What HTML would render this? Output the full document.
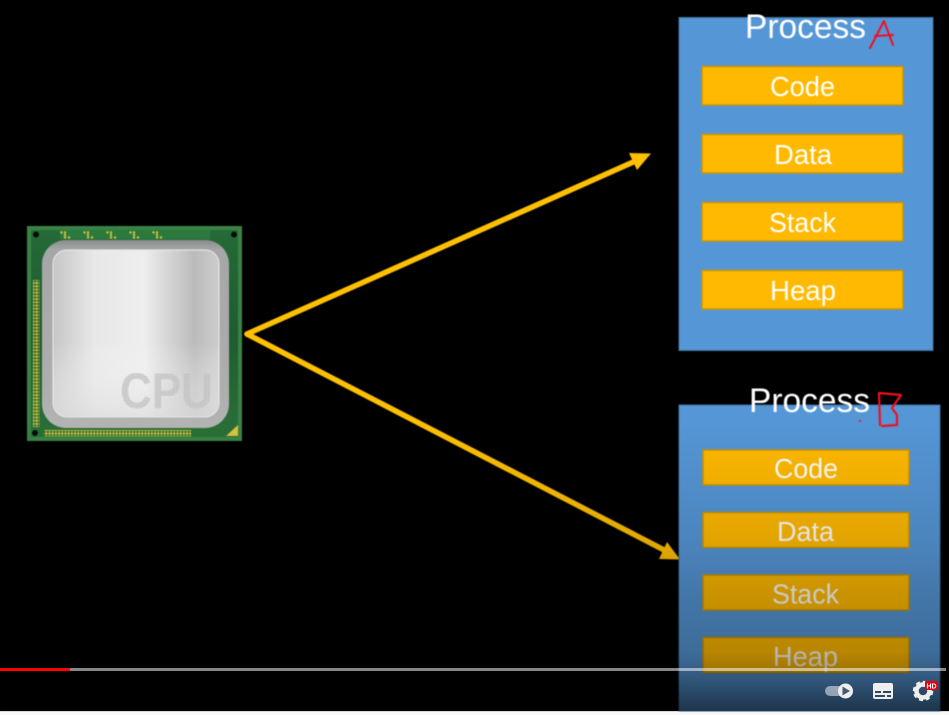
<!DOCTYPE html>
<html>
<head>
<meta charset="utf-8">
<style>
html,body{margin:0;padding:0;background:#f9f9f9;width:949px;height:715px;overflow:hidden}
svg{display:block}
text{font-family:"Liberation Sans",sans-serif;fill:#fff}
.soft{filter:blur(0.45px)}
</style>
</head>
<body>
<svg width="949" height="715" viewBox="0 0 949 715" xmlns="http://www.w3.org/2000/svg">
<defs>
<linearGradient id="shade" x1="0" y1="420" x2="0" y2="711" gradientUnits="userSpaceOnUse">
<stop offset="0" stop-color="#000" stop-opacity="0"/>
<stop offset="0.4" stop-color="#000" stop-opacity="0.11"/>
<stop offset="0.6" stop-color="#000" stop-opacity="0.21"/>
<stop offset="0.8" stop-color="#000" stop-opacity="0.28"/>
<stop offset="0.89" stop-color="#000" stop-opacity="0.42"/>
<stop offset="1" stop-color="#000" stop-opacity="0.65"/>
</linearGradient>
<linearGradient id="board" x1="0" y1="0" x2="0" y2="1">
<stop offset="0" stop-color="#256a38"/><stop offset="0.5" stop-color="#1f5c32"/><stop offset="1" stop-color="#2a7038"/>
</linearGradient>
<linearGradient id="outer" x1="0" y1="0" x2="0" y2="1">
<stop offset="0" stop-color="#8a8b8b"/><stop offset="0.05" stop-color="#a6a6a6"/><stop offset="0.8" stop-color="#aeaeae"/><stop offset="1" stop-color="#b4b4b4"/>
</linearGradient>
<linearGradient id="lid" x1="0" y1="0" x2="1" y2="0">
<stop offset="0" stop-color="#c6c6c6"/><stop offset="0.25" stop-color="#e8e8e8"/><stop offset="0.55" stop-color="#eeeeee"/><stop offset="0.85" stop-color="#bbbbbb"/><stop offset="1" stop-color="#cccccc"/>
</linearGradient>
<linearGradient id="lidv" x1="0" y1="0" x2="0" y2="1">
<stop offset="0" stop-color="#fff" stop-opacity="0"/><stop offset="0.55" stop-color="#fff" stop-opacity="0"/><stop offset="1" stop-color="#ddd" stop-opacity="0.7"/>
</linearGradient>
<pattern id="pins" width="3.200" height="3.200" patternUnits="userSpaceOnUse">
<circle cx="1.500" cy="1.500" r="1.250" fill="#d8c43e"/>
</pattern>
<pattern id="dots" width="2" height="2" patternUnits="userSpaceOnUse">
<rect width="2" height="2" fill="#cfcfcf"/>
<rect width="1" height="1" fill="#aaaaaa"/>
</pattern>
<g id="cl" fill="#d8c43e">
<circle cx="1.500" cy="1.500" r="1.200"/><circle cx="5" cy="1.500" r="1.200"/>
<circle cx="5" cy="4" r="1.200"/>
<circle cx="5" cy="6.500" r="1.200"/><circle cx="9" cy="6.500" r="1.200"/>
</g>
</defs>

<rect x="0" y="0" width="949" height="711" fill="#000"/>

<g class="soft">
<!-- CPU -->
<rect x="27" y="226" width="215" height="215" fill="#3a8344"/>
<rect x="31" y="230" width="207" height="207" fill="url(#board)"/>
<rect x="60" y="229" width="150" height="10" fill="#2f8040" opacity="0.7"/>
<circle cx="36" cy="234.500" r="3" fill="#0a0a0a"/>
<circle cx="234" cy="234.500" r="3" fill="#0a0a0a"/>
<circle cx="35" cy="433" r="3" fill="#0a0a0a"/>
<use href="#cl" x="60" y="231"/>
<use href="#cl" x="83" y="231"/>
<use href="#cl" x="106" y="231"/>
<use href="#cl" x="129" y="231"/>
<use href="#cl" x="152" y="231"/>
<rect x="33" y="280" width="6.500" height="147" fill="url(#pins)"/>
<rect x="44" y="430" width="147" height="6.500" fill="url(#pins)"/>
<polygon points="226,436 238,436 238,425" fill="#d8c43e"/>
<rect x="42" y="240" width="187" height="188" rx="24" fill="url(#outer)"/>
<rect x="53" y="250" width="166" height="167" rx="14" fill="url(#lid)" stroke="#ececec" stroke-width="1"/>
<rect x="53" y="250" width="166" height="167" rx="14" fill="url(#lidv)"/>
<text x="120" y="408" font-size="50" font-weight="700" textLength="93" lengthAdjust="spacingAndGlyphs" style="fill:url(#dots)" opacity="0.8">CPU</text>

<!-- Arrows -->
<g fill="#ffc000" stroke="none">
<line x1="247" y1="334" x2="640" y2="159" stroke="#ffc000" stroke-width="5.500" stroke-linecap="round"/>
<polygon points="629,153 651,153.500 637,170"/>
<line x1="247" y1="334" x2="666" y2="551" stroke="#ffc000" stroke-width="5.500" stroke-linecap="round"/>
<polygon points="659,559 680,559.500 667,542"/>
</g>

<!-- Process A -->
<rect x="679" y="17.500" width="254" height="333" fill="#5596d6" stroke="#41719c" stroke-width="1"/>
<text x="745" y="38" font-size="34" textLength="121" lengthAdjust="spacingAndGlyphs">Process</text>
<g fill="#ffb900" stroke="#cc9400" stroke-width="1.500">
<rect x="702" y="66.500" width="201" height="38.500"/>
<rect x="702" y="134.500" width="201" height="38.500"/>
<rect x="702" y="202.500" width="201" height="38.500"/>
<rect x="702" y="270.500" width="201" height="38.500"/>
</g>
<text x="770" y="96" font-size="28" textLength="65" lengthAdjust="spacingAndGlyphs">Code</text>
<text x="774" y="164" font-size="28" textLength="58" lengthAdjust="spacingAndGlyphs">Data</text>
<text x="769" y="232" font-size="28" textLength="67" lengthAdjust="spacingAndGlyphs">Stack</text>
<text x="770" y="300" font-size="28" textLength="66" lengthAdjust="spacingAndGlyphs">Heap</text>
<g fill="none" stroke="#f01020" stroke-width="2" stroke-linecap="round" stroke-linejoin="round">
<polyline points="870,48 884,21 893,45"/>
<line x1="875" y1="36" x2="893" y2="35"/>
</g>

<!-- Process B -->
<rect x="679" y="405" width="261" height="306" fill="#5596d6" stroke="#41719c" stroke-width="1"/>
<g fill="#ffb900" stroke="#cc9400" stroke-width="1.500">
<rect x="703" y="450" width="206" height="35"/>
<rect x="703" y="512.500" width="206" height="35"/>
<rect x="703" y="575" width="206" height="35"/>
<rect x="703" y="637.500" width="206" height="35"/>
</g>
<text x="774" y="478" font-size="28" textLength="64" lengthAdjust="spacingAndGlyphs">Code</text>
<text x="777" y="541" font-size="28" textLength="57" lengthAdjust="spacingAndGlyphs">Data</text>
<text x="772" y="603.500" font-size="28" textLength="67" lengthAdjust="spacingAndGlyphs">Stack</text>
<text x="773" y="666" font-size="28" textLength="65" lengthAdjust="spacingAndGlyphs">Heap</text>

<!-- Bottom shading -->
<rect x="0" y="420" width="949" height="291" fill="url(#shade)"/>

<text x="749" y="412" font-size="34" textLength="121" lengthAdjust="spacingAndGlyphs">Process</text>
<g fill="none" stroke="#f01020" stroke-width="2.200" stroke-linecap="round" stroke-linejoin="round">
<line x1="879" y1="393" x2="880" y2="425"/>
<polyline points="879,393 901,395 892,408 897,415 897,425 882,426"/>
</g>
<circle cx="860" cy="421" r="1.200" fill="#e0303a"/>
</g>

<!-- Progress bar -->
<rect x="70" y="668" width="876" height="3" fill="#fff" fill-opacity="0.53"/>
<rect x="0" y="668" width="70" height="3" fill="#f00"/>

<!-- Controls -->
<rect x="825" y="686" width="22" height="10" rx="5" fill="#fff" fill-opacity="0.5"/>
<circle cx="845.500" cy="691" r="7.500" fill="#eee"/>
<polygon points="842.500,686.500 850,691 842.500,695.500" fill="#4a5a70"/>
<rect x="873" y="683" width="20" height="16" rx="2" fill="#eee"/>
<g fill="#2c4866">
<rect x="875" y="691" width="6" height="2"/><rect x="883" y="691" width="8" height="2"/>
<rect x="875" y="695" width="10" height="2"/><rect x="887" y="695" width="4" height="2"/>
</g>
<circle cx="923" cy="691" r="6.500" fill="none" stroke="#eee" stroke-width="4.500"/>
<circle cx="923" cy="691" r="9" fill="none" stroke="#eee" stroke-width="2.500" stroke-dasharray="4 3"/>
<rect x="925" y="681" width="13" height="9" rx="1" fill="#e60012"/>
<text x="926.500" y="688.500" font-size="7.500" font-weight="700" textLength="10" lengthAdjust="spacingAndGlyphs">HD</text>
</svg>
</body>
</html>
